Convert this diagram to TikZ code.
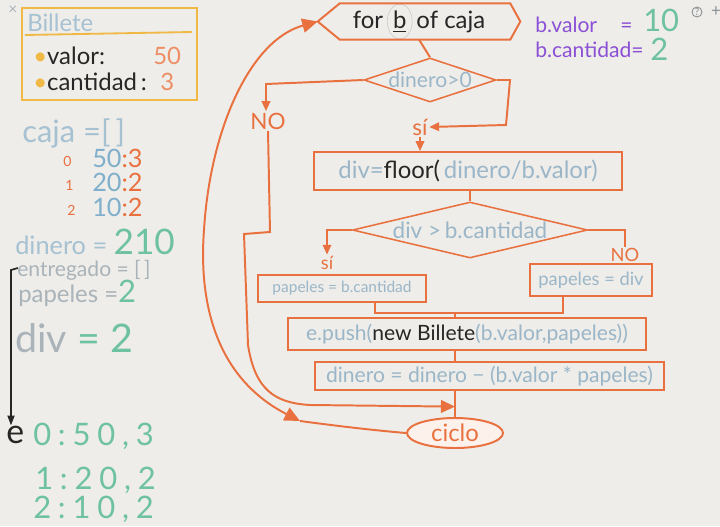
\documentclass[tikz,border=0pt]{standalone}
\usepackage{fontspec}
\setmainfont{Lato}
\newfontfamily\handw[LetterSpace=22]{Lato}
\usetikzlibrary{arrows.meta,shapes.geometric,calc}
\definecolor{bg}{HTML}{EEEDE9}
\definecolor{orng}{HTML}{E9713F}
\definecolor{lblue}{HTML}{9AB6C8}
\definecolor{cblue}{HTML}{A6C1D2}
\definecolor{nblue}{HTML}{7FAFCB}
\definecolor{grn}{HTML}{6EC2A2}
\definecolor{gtext}{HTML}{A9B3B9}
\definecolor{purp}{HTML}{8B50D6}
\definecolor{yel}{HTML}{F0B845}
\definecolor{ink}{HTML}{262626}
\newcommand{\fs}[1]{\fontsize{#1}{#1}\selectfont}
\tikzset{
  pbox/.style={draw=orng, line width=1.4pt, inner sep=0pt, rectangle},
  dbox/.style={draw=orng, line width=1.1pt, inner sep=0pt, diamond},
  conn/.style={orng, line width=1.4pt},
  arr/.style={conn, -{Triangle[length=7pt,width=6pt]}},
  lab/.style={text=orng, inner sep=1pt},
  txt/.style={inner sep=0pt, anchor=base west},
}
\begin{document}
\begin{tikzpicture}[x=0.025cm,y=-0.025cm]
\fill[bg] (0,0) rectangle (720,526);
\useasboundingbox (0,0) rectangle (720,526);

% ---------- left panel ----------
\node[txt, text=gtext, font=\fs{11}] (xmark) at (8,15) {×};
\draw[yel, line width=1.3pt] (22,8) rectangle (197,100);
\draw[yel, line width=1.3pt] (25,35) -- (192,32);
\node[txt, text=cblue, font=\fs{17}] (bil) at (27,31) {Billete};
\node[txt, text=ink, font=\fs{17}] (val) at (33,64) {\textcolor{yel}{•}valor:};
\node[txt, text=orng!80, font=\fs{17}] (v50) at (153,64) {50};
\node[txt, text=ink, font=\fs{17}] (cant) at (33,90) {\textcolor{yel}{•}cantidad\,:};
\node[txt, text=orng!80, font=\fs{17}] (c3) at (160,90) {3};

\node[txt, text=cblue, font=\fs{22}] (caja) at (22,142) {caja =[\,]};
\node[txt, text=orng, font=\fs{10}] (i0) at (63,166) {0};
\node[txt, font=\fs{18}] (r0) at (92,167) {\textcolor{nblue}{50}\textcolor{orng}{:3}};
\node[txt, text=orng, font=\fs{10}] (i1) at (65,190) {1};
\node[txt, font=\fs{18}] (r1) at (92,191) {\textcolor{nblue}{20}\textcolor{orng}{:2}};
\node[txt, text=orng, font=\fs{10}] (i2) at (67,215) {2};
\node[txt, font=\fs{18}] (r2) at (92,216) {\textcolor{nblue}{10}\textcolor{orng}{:2}};

\node[txt, font=\fs{18}] (din0) at (15,254) {\textcolor{cblue}{dinero =} \textcolor{grn}{\fs{25}210}};
\node[txt, text=gtext, font=\fs{15}] (ent) at (17,276) {entregado = [\,]};
\node[txt, font=\fs{17}] (pap0) at (18,302) {\textcolor{gtext}{papeles =}\textcolor{grn}{\fs{22}2}};
\node[txt, font=\fs{28}] (div0) at (15,352) {\textcolor{gtext}{div} \textcolor{grn}{= 2}};

\coordinate (ea) at (18,268);
\node[txt, text=ink, font=\fs{24}] (e) at (6,443) {e};
\draw[ink, line width=1.2pt, -{Triangle[length=7pt,width=5pt]}] (ea) -- (11,270) -- (e.north -| 11,0);
\node[txt, text=grn, font={\handw\fs{22}}] (e0) at (33,445) {0:50,3};
\node[txt, text=grn, font={\handw\fs{22}}] (e1) at (35,489) {1:20,2};
\node[txt, text=grn, font={\handw\fs{22}}] (e2) at (33,518) {2:10,2};

% ---------- right info ----------
\node[txt, text=purp, font=\fs{15}] (bv) at (535,32) {b.valor};
\node[txt, text=purp, font=\fs{15}] (bveq) at (620,32) {=};
\node[txt, text=grn, font=\fs{22}] (bv10) at (643,31) {10};
\node[txt, text=purp, font=\fs{15}] (bc) at (535,57) {b.cantidad=};
\node[txt, text=grn, font=\fs{22}] (bc2) at (650,60) {2};
\draw[gtext!80!black, line width=0.6pt] (697,12) circle (5);
\node[text=gtext!80!black, font=\fs{7}, inner sep=0pt] (qm) at (697,12) {?};
\node[text=gtext!80!black, font=\fs{12}, inner sep=0pt] (plus) at (716,12) {+};

% ---------- flowchart ----------
\node[minimum width=5.05cm, minimum height=0.825cm, inner sep=0pt, font=\fs{17}, text=ink] (forn) at (419,21.5)
  {for\,\tikz[baseline]{\node[inner sep=1.5pt, minimum width=0pt, minimum height=0pt, anchor=base, draw=gtext!70, ellipse, line width=0.4pt]{\underline{b}};}\,of caja};
\draw[orng, line width=1.4pt] (forn.west) -- ($(forn.north west)+(22,0)$) -- ($(forn.north east)+(-10,0)$)
  -- (forn.east) -- ($(forn.south east)+(-10,0)$) -- ($(forn.south west)+(22,0)$) -- cycle;

\node[dbox, aspect=3, minimum width=3.3cm, minimum height=1.1cm, text=lblue, font=\fs{15}] (d1) at (430,80) {dinero>0};
\node[lab, font=\fs{16}] (no1) at (268,121) {NO};
\node[lab, font=\fs{16}] (si1) at (420,127) {sí};
\node[pbox, minimum width=7.675cm, minimum height=0.95cm, font=\fs{17}] (floor) at (468,171)
  {\textcolor{lblue}{div=}\textcolor{ink}{floor(}\textcolor{lblue}{\,dinero/b.valor)}};
\node[dbox, aspect=4.2, minimum width=5.875cm, minimum height=1.4cm, text=lblue, font=\fs{16}] (d2) at (470,230) {div >\,b.cantidad};
\node[lab, font=\fs{13}] (si2) at (327,263) {sí};
\node[lab, font=\fs{13}] (no2) at (625,255) {NO};
\node[pbox, minimum width=4.2cm, minimum height=0.675cm, text=lblue, font=\fs{11}] (pbc) at (342,288.5) {papeles = b.cantidad};
\node[pbox, minimum width=3.05cm, minimum height=0.8cm, text=lblue, font=\fs{13}] (pdiv) at (591,280) {papeles = div};
\node[pbox, minimum width=8.95cm, minimum height=0.8cm, font=\fs{15}] (epush) at (467,334)
  {\textcolor{lblue}{e.push(}\textcolor{ink}{new Billete}\textcolor{lblue}{(b.valor,papeles))}};
\node[pbox, minimum width=8.725cm, minimum height=0.7cm, text=lblue, font=\fs{15}] (dinb) at (489.5,376)
  {dinero = dinero − (b.valor * papeles)};
\node[ellipse, draw=orng, line width=1.4pt, fill=orng!10, minimum width=2.4cm, minimum height=0.75cm,
  inner sep=0pt, text=orng, font=\fs{17}] (ciclo) at (455,433) {ciclo};

% connectors
\draw[conn] (forn.south) -- (d1.north);
\coordinate (n1) at (266,84);
\draw[arr] (d1.west) -- (n1) -- (n1 |- no1.north);
\coordinate (s1) at (510,80);
\draw[arr] (d1.east) -- (s1) -- (506,125) -- (si1.east);
\draw[arr] (si1.south) -- (si1.south |- floor.north);
\draw[conn] (floor.south -| d2.north) -- (d2.north);
\draw[arr] (d2.west) -| (si2.north);
\draw[conn] (d2.east) -| (no2.north);
\coordinate (m1) at (375,313);
\coordinate (m2) at (563,313);
\draw[conn] (pbc.south -| m1) -- (m1) -- (m2) -- (pdiv.south -| m2);
\draw[conn] (m1 -| ciclo.north) -- (epush.north -| ciclo.north);
\draw[conn] (epush.south -| ciclo.north) -- (dinb.north -| ciclo.north);
\draw[conn] (dinb.south -| ciclo.north) -- (ciclo.north);
\coordinate (j) at ($(dinb.south -| ciclo.north)!0.6!(ciclo.north)$);
\draw[conn, -{Triangle[length=10pt,width=9pt]}] (no1.south) -- (270,232) -- (244,234) -- (248,345)
  .. controls (255,390) and (275,403) .. (310,405) -- (j);
\coordinate (lp) at (300,421);
\draw[conn] (ciclo.west) .. controls (370,430) and (330,425) .. (lp);
\draw[conn, {Triangle[length=11pt,width=10pt]}-{Triangle[length=11pt,width=10pt]}] (lp)
  .. controls (220,380) and (198,310) .. (204,230) .. controls (210,130) and (250,40) .. (forn.west);
\end{tikzpicture}
\end{document}
